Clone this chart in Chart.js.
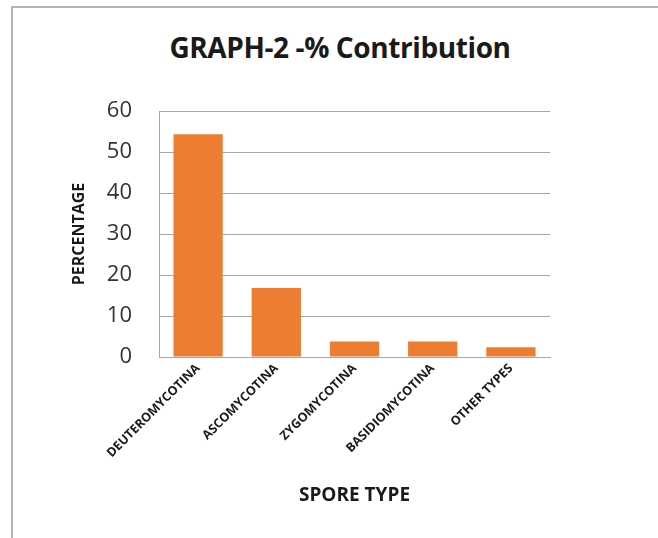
<!DOCTYPE html>
<html>
<head>
<meta charset="utf-8">
<script src="https://cdn.jsdelivr.net/npm/chart.js@4.4.0/dist/chart.umd.min.js"></script>
<style>
  body { margin: 0; background: #fff; }
  #wrap { position: relative; width: 658px; height: 538px; overflow: hidden; }
  #frame { position: absolute; left: 11px; top: 6px; width: 700px; height: 600px;
           border-left: 2px solid #b4b4b4; border-top: 2px solid #b4b4b4; }
  #title { position: absolute; left: 0; width: 680px; top: 28px; text-align: center;
           font: bold 28px "Open Sans", sans-serif; color: #1a1a1a; letter-spacing: -0.4px; }
  canvas { position: absolute; left: 0; top: 0; }
</style>
</head>
<body>
<div id="wrap">
  <div id="frame"></div>
  <div id="title">GRAPH-2 -% Contribution</div>
  <canvas id="c" width="658" height="538"></canvas>
</div>
<script>
// データ
const categories = ['DEUTEROMYCOTINA', 'ASCOMYCOTINA', 'ZYGOMYCOTINA', 'BASIDIOMYCOTINA', 'OTHER TYPES'];
const percentages = [54.3, 16.8, 3.8, 3.8, 2.4];
const yTicks = [0, 10, 20, 30, 40, 50, 60];

const ctx = document.getElementById('c').getContext('2d');
new Chart(ctx, {
  type: 'bar',
  data: {
    labels: categories,
    datasets: [{
      data: percentages,
      backgroundColor: '#ed7d31',
      barPercentage: 0.63,
      categoryPercentage: 1
    }]
  },
  options: {
    responsive: false,
    animation: false,
    layout: { padding: { left: 60, right: 108, top: 111, bottom: 29 } },
    plugins: { legend: { display: false }, tooltip: { enabled: false } },
    scales: {
      x: {
        grid: { display: false, drawTicks: false },
        border: { color: '#a6a6a6', width: 1 },
        ticks: {
          maxRotation: 45, minRotation: 45, padding: 4,
          font: { family: 'Open Sans', size: 12.5, weight: 'bold' },
          color: '#1a1a1a'
        },
        title: {
          display: true, text: 'SPORE TYPE',
          font: { family: 'Open Sans', size: 19, weight: 'bold' },
          color: '#1a1a1a', padding: { top: 0, bottom: 2 }
        },
        afterFit: (s) => { s.height = 152; }
      },
      y: {
        min: 0, max: 60,
        afterBuildTicks: (s) => { s.ticks = yTicks.map(v => ({ value: v })); },
        grid: { color: '#a6a6a6', drawTicks: false },
        border: { color: '#a6a6a6', width: 1 },
        ticks: {
          padding: 27,
          font: { family: 'Open Sans', size: 22 },
          color: '#333333'
        },
        title: {
          display: true, text: 'PERCENTAGE',
          font: { family: 'Open Sans', size: 16, weight: 'bold' },
          color: '#1a1a1a', padding: { top: 10, bottom: 0 }
        },
        afterFit: (s) => { s.width = 99; }
      }
    }
  }
});
</script>
</body>
</html>
